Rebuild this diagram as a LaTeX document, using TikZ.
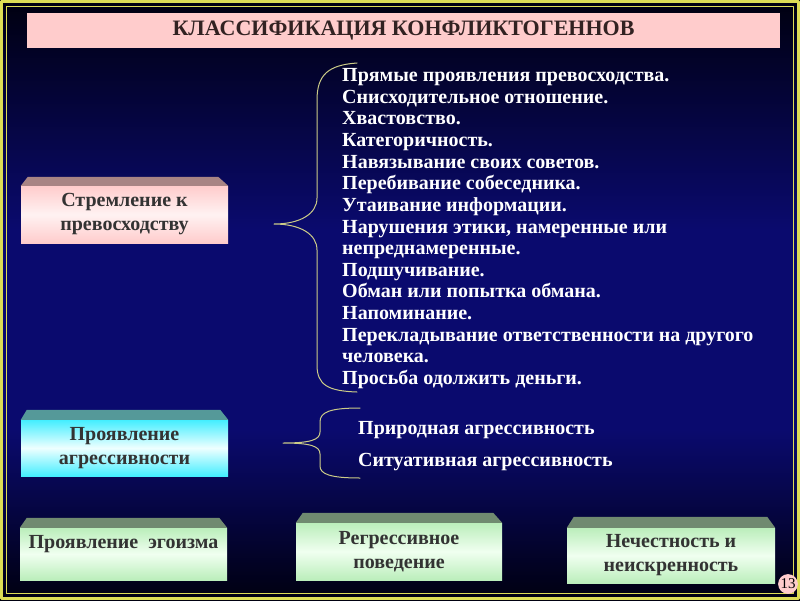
\documentclass[tikz,border=0pt]{standalone}
\usepackage{fontspec}
\setmainfont{Liberation Serif}
\definecolor{qqqqrq}{rgb}{0.,0.,0.0627}
\definecolor{qaqawe}{rgb}{0.0392,0.0392,0.4314}
\definecolor{ddddvv}{rgb}{0.8667,0.8667,0.3333}
\definecolor{ffcccc}{rgb}{1.,0.8,0.8}
\definecolor{tsssss}{rgb}{0.1961,0.1333,0.1333}
\definecolor{tttttt}{rgb}{0.2,0.2,0.2}
\definecolor{ccccyy}{rgb}{0.8,0.8,0.5333}
\definecolor{fffsfs}{rgb}{1.,0.9490,0.9490}
\definecolor{ayyuyu}{rgb}{0.6588,0.5176,0.5176}
\definecolor{uueeff}{rgb}{0.2667,0.9333,1.}
\definecolor{eeffff}{rgb}{0.9333,1.,1.}
\definecolor{vvzzzz}{rgb}{0.3333,0.6,0.6}
\definecolor{bbeebb}{rgb}{0.7333,0.9333,0.7333}
\definecolor{fqfffq}{rgb}{0.9412,1.,0.9412}
\definecolor{xqyaxq}{rgb}{0.4392,0.5412,0.4392}
\tikzset{
  facebox/.style={inner sep=0pt,minimum width=207pt,align=center,text=tttttt,
    font=\bfseries\fontsize{20}{24}\selectfont},
  pinkface/.style={facebox,top color=ffcccc,bottom color=ffcccc,middle color=fffsfs},
  cyanface/.style={facebox,top color=uueeff,bottom color=uueeff,middle color=eeffff},
  greenface/.style={facebox,top color=bbeebb,bottom color=bbeebb,middle color=fqfffq},
  listline/.style={anchor=base west,inner sep=0pt,text=white,
    font=\bfseries\fontsize{20}{22}\selectfont},
  brace/.style={draw=ccccyy,line width=1pt}
}
\begin{document}
\begin{tikzpicture}[line cap=round,line join=round,x=1pt,y=-1pt]
    \useasboundingbox (0,0) rectangle (800,600);
    % background and frame
    \shade [top color=qqqqrq,bottom color=qaqawe] (0,0) rectangle (800,230);
    \fill [qaqawe] (0,229) rectangle (800,431);
    \shade [top color=qaqawe,bottom color=qqqqrq] (0,430) rectangle (800,600);
    \draw [color=ddddvv,line width=2.5pt] (1.5,1.5) rectangle (798.5,598.5);
    \draw [color=ddddvv,line width=1.5pt] (6.5,6.5) rectangle (793.5,593.5);
    % title
    \fill [color=ffcccc] (27,13) rectangle (780,48);
    \node [text=tsssss,font=\bfseries\fontsize{22}{26}\selectfont] (title) at (403.5,31) {КЛАССИФИКАЦИЯ КОНФЛИКТОГЕННОВ};
    % boxes
    \node [pinkface,minimum height=57pt] (strem) at (124.5,214.5) {Стремление к\\превосходству};
    \fill [color=ayyuyu] (strem.north west) -- ++(7,-9) -- ([xshift=-10pt,yshift=9pt]strem.north east) -- (strem.north east) -- cycle;
    \node [cyanface,minimum height=56pt] (agr) at (124.5,448) {Проявление\\агрессивности};
    \fill [color=vvzzzz] (agr.north west) -- ++(6,-10) -- ([xshift=-8pt,yshift=10pt]agr.north east) -- (agr.north east) -- cycle;
    \node [greenface,minimum height=52pt] (ego) at (123.5,554) {Проявление~~эгоизма\\\mbox{}};
    \fill [color=xqyaxq] (ego.north west) -- ++(7,-10) -- ([xshift=-8pt,yshift=10pt]ego.north east) -- (ego.north east) -- cycle;
    \node [greenface,minimum height=57pt,minimum width=206pt] (regr) at (399,551.5) {Регрессивное\\поведение};
    \fill [color=xqyaxq] (regr.north west) -- ++(7,-10) -- ([xshift=-9pt,yshift=10pt]regr.north east) -- (regr.north east) -- cycle;
    \node [greenface,minimum height=55pt,minimum width=208pt] (nech) at (671,555.5) {Нечестность и\\неискренность};
    \fill [color=xqyaxq] (nech.north west) -- ++(7,-11) -- ([xshift=-8pt,yshift=11pt]nech.north east) -- (nech.north east) -- cycle;
    % braces
    \coordinate (tipA) at (274,224);
    \coordinate (tipB) at (283,443);
    \draw [brace] (357,63) .. controls (328,65) and (317,75) .. (317,100) -- (317,198) .. controls (317,214) and (300,224) .. (tipA) .. controls (300,224) and (317,234) .. (317,250) -- (317,365) .. controls (317,385) and (328,391) .. (357,392);
    \draw [brace] (360,408) .. controls (330,408) and (320,412) .. (320,422) -- (320,432) .. controls (320,440) and (310,443) .. (tipB) .. controls (310,443) and (320,446) .. (320,454) -- (320,466) .. controls (320,474) and (330,478) .. (360,478);
    % lists
    \node [listline] (p1) at (342,81.5) {Прямые проявления превосходства.};
    \node [listline] (p2) at (342,103.1) {Снисходительное отношение.};
    \node [listline] (p3) at (342,124.8) {Хвастовство.};
    \node [listline] (p4) at (342,146.4) {Категоричность.};
    \node [listline] (p5) at (342,168.1) {Навязывание своих советов.};
    \node [listline] (p6) at (342,189.7) {Перебивание собеседника.};
    \node [listline] (p7) at (342,211.3) {Утаивание информации.};
    \node [listline] (p8) at (342,233.0) {Нарушения этики, намеренные или};
    \node [listline] (p9) at (342,254.6) {непреднамеренные.};
    \node [listline] (p10) at (342,276.3) {Подшучивание.};
    \node [listline] (p11) at (342,297.9) {Обман или попытка обмана.};
    \node [listline] (p12) at (342,319.5) {Напоминание.};
    \node [listline] (p13) at (342,341.2) {Перекладывание ответственности на другого};
    \node [listline] (p14) at (342,362.8) {человека.};
    \node [listline] (p15) at (342,384.5) {Просьба одолжить деньги.};
    \node [listline] (q1) at (358,434) {Природная агрессивность};
    \node [listline] (q2) at (358,466) {Ситуативная агрессивность};
    % slide number
    \node [circle,fill=ffcccc,inner sep=0.6pt,text=black,font=\fontsize{15}{15}\selectfont] (num) at (788,584) {13};
\end{tikzpicture}
\end{document}
